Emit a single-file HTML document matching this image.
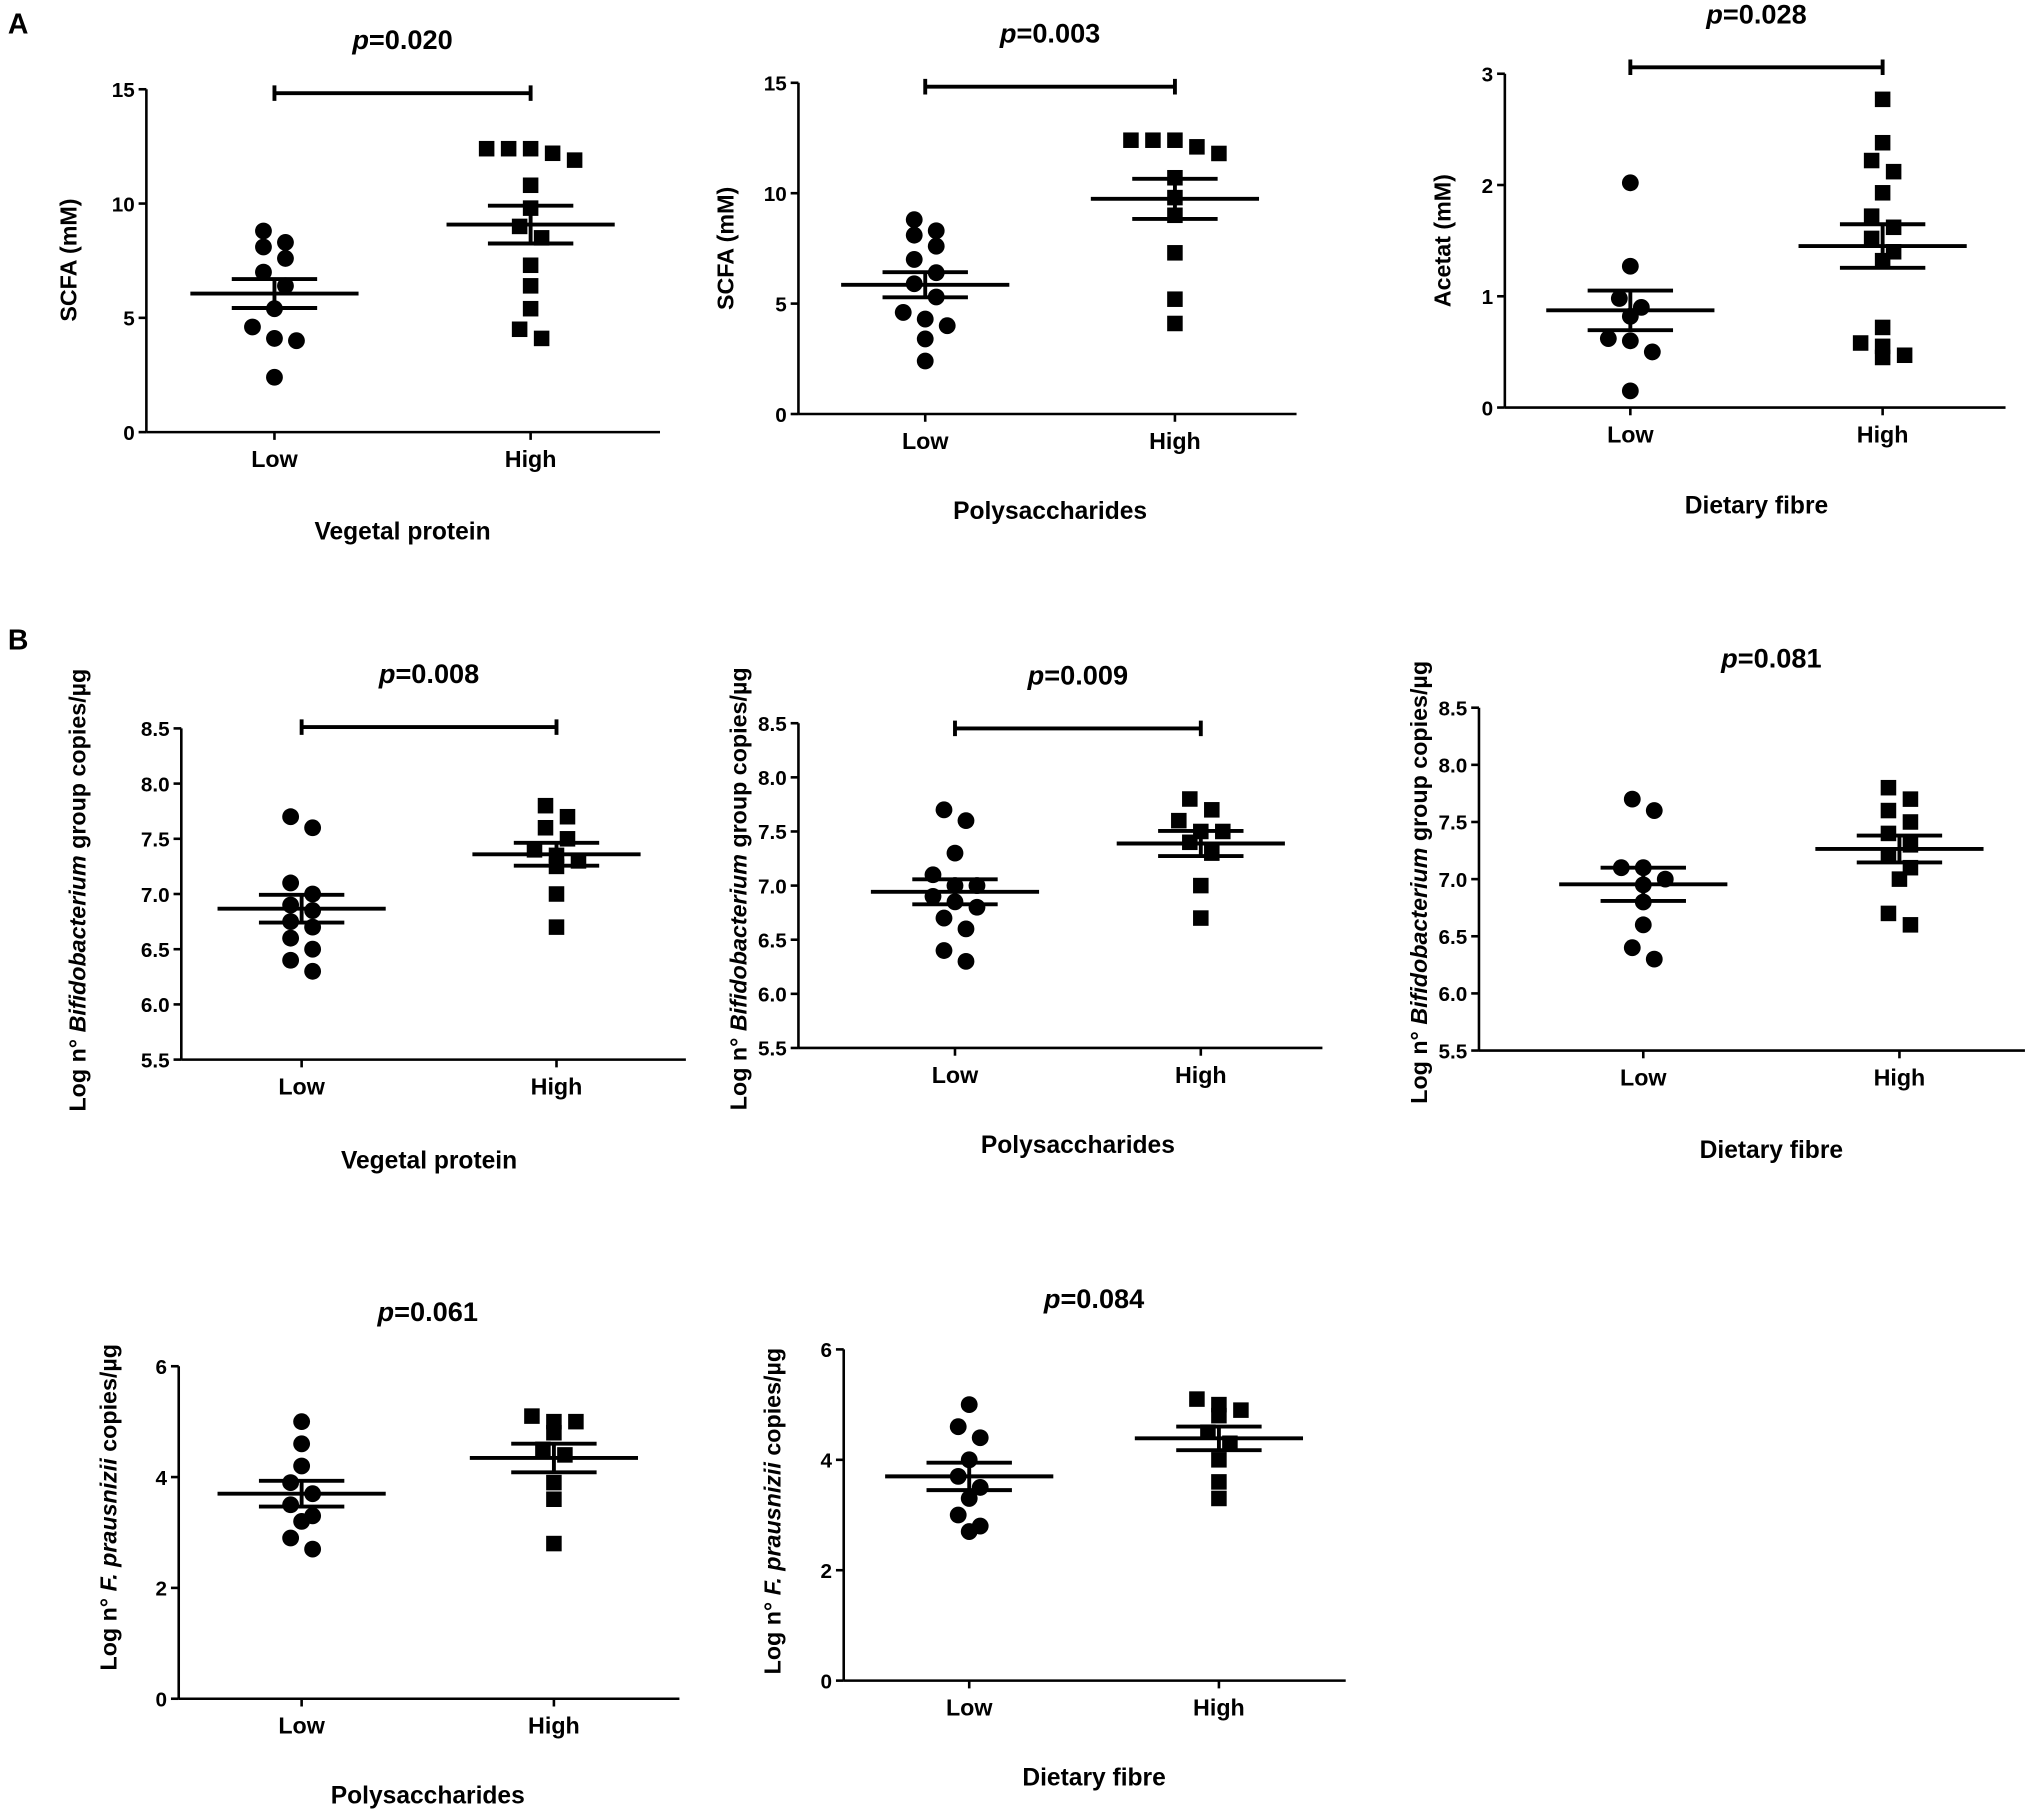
<!DOCTYPE html>
<html><head><meta charset="utf-8"><style>
html,body{margin:0;padding:0;background:#fff;}
svg{display:block;}
text{font-family:"Liberation Sans",Arial,sans-serif;font-weight:bold;fill:#000;}
</style></head><body>
<svg id="fig" width="2029" height="1810" viewBox="0 0 1568 1399" xmlns="http://www.w3.org/2000/svg">
<text x="6" y="26" font-size="22" font-weight="normal">A</text>
<text x="6" y="502" font-size="22" font-weight="normal">B</text>
</svg>
<script>
const categories = ["Low","High"];
const a1Low = [8.8,8.3,8.1,7.6,7.0,6.4,5.4,4.6,4.1,4.0,2.4];
const a1High = [12.4,12.4,12.4,12.2,11.9,10.8,9.8,9.0,8.5,7.3,6.4,5.4,4.5,4.1];
const a2Low = [8.8,8.3,8.1,7.6,7.0,6.4,5.9,5.3,4.6,4.3,4.0,3.4,2.4];
const a2High = [12.4,12.4,12.4,12.1,11.8,10.7,9.8,9.0,7.3,5.2,4.1];
const a3Low = [2.02,1.27,0.98,0.9,0.82,0.62,0.6,0.5,0.15];
const a3High = [2.77,2.38,2.22,2.12,1.93,1.72,1.62,1.52,1.4,1.32,0.72,0.58,0.55,0.47,0.45];
const b1Low = [7.7,7.6,7.1,7.0,6.9,6.85,6.75,6.7,6.6,6.5,6.4,6.3];
const b1High = [7.8,7.7,7.6,7.5,7.4,7.35,7.3,7.25,7.0,6.7];
const b2Low = [7.7,7.6,7.3,7.1,7.0,7.0,6.9,6.85,6.8,6.7,6.6,6.4,6.3];
const b2High = [7.8,7.7,7.6,7.5,7.5,7.4,7.3,7.0,6.7];
const b3Low = [7.7,7.6,7.1,7.1,7.0,6.95,6.8,6.6,6.4,6.3];
const b3High = [7.8,7.7,7.6,7.5,7.4,7.3,7.2,7.1,7.0,6.7,6.6];
const c1Low = [5.0,4.6,4.2,3.9,3.7,3.5,3.3,3.2,2.9,2.7];
const c1High = [5.1,5.0,5.0,4.8,4.5,4.4,3.9,3.6,2.8];
const c2Low = [5.0,4.6,4.4,4.0,3.7,3.5,3.3,3.0,2.8,2.7];
const c2High = [5.1,5.0,4.9,4.8,4.5,4.3,4.0,3.6,3.3];
const ticksA12 = [0,5,10,15];
const ticksA3 = [0,1,2,3];
const ticksB = ["5.5","6.0","6.5","7.0","7.5","8.0","8.5"];
const ticksC = [0,2,4,6];
const pValues = ["0.020","0.003","0.028","0.008","0.009","0.081","0.061","0.084"];

const NS="http://www.w3.org/2000/svg";
const svg=document.getElementById('fig');
function el(tag,attrs,parent){const e=document.createElementNS(NS,tag);for(const k in attrs)e.setAttribute(k,attrs[k]);(parent||svg).appendChild(e);return e;}

function panel(cfg){
  const g=el('g',{});
  
  
  const ymin=cfg.ticks[0]*1, ymax=cfg.ticks[cfg.ticks.length-1]*1;
  const ys=v=>cfg.y0+(v-ymin)/(ymax-ymin)*(cfg.y1-cfg.y0);
  const xs=[cfg.xl,cfg.xh];
  // axes
  const ya=el('line',{x1:cfg.ax,y1:cfg.y0,x2:cfg.ax,y2:cfg.y1,stroke:'#000','stroke-width':2},g);
  
  const xa=el('line',{x1:cfg.ax,y1:cfg.y0,x2:cfg.xend,y2:cfg.y0,stroke:'#000','stroke-width':2},g);
  
  cfg.ticks.forEach(t=>{
    const y=ys(t*1);
    el('line',{x1:cfg.ax-6,y1:y,x2:cfg.ax,y2:y,stroke:'#000','stroke-width':2},g);
    const tx=el('text',{x:cfg.ax-9,y:y+6,'font-size':16,'text-anchor':'end'},g);
    tx.textContent=t;
    
  });
  categories.forEach((c,i)=>{
    el('line',{x1:xs[i],y1:cfg.y0,x2:xs[i],y2:cfg.y0+6,stroke:'#000','stroke-width':2},g);
    const tx=el('text',{x:xs[i],y:cfg.y0+27,'font-size':18,'text-anchor':'middle'},g);
    tx.textContent=c;
    
  });
  const xt=el('text',{x:(cfg.xl+cfg.xh)/2,y:cfg.y0+cfg.xtOff,'font-size':19,'text-anchor':'middle'},g);
  xt.textContent=cfg.xtitle;
  
  const yt=el('text',{x:0,y:0,'font-size':18,'text-anchor':'middle',transform:`translate(${cfg.ytx},${cfg.yty}) rotate(-90)`},g);
  yt.innerHTML=cfg.ytitle;
  
  // p value
  const pt=el('text',{x:(cfg.xl+cfg.xh)/2,y:cfg.py,'font-size':21,'text-anchor':'middle'},g);
  pt.innerHTML='<tspan font-style="italic">p</tspan>='+cfg.p;
  
  if(cfg.bracket){
    const by=cfg.py+34;
    const b=el('path',{d:`M${cfg.xl},${by-6}V${by+6}M${cfg.xl},${by}H${cfg.xh}M${cfg.xh},${by-6}V${by+6}`,stroke:'#000','stroke-width':3,fill:'none'},g);
    
  }
  [cfg.low,cfg.high].forEach((data,gi)=>{
    const cx=xs[gi];
    const sorted=data.slice().sort((a,b)=>b-a);
    const clusters=[];
    sorted.forEach(v=>{
      const y=ys(v);
      const last=clusters[clusters.length-1];
      if(last&&Math.abs(last.y0-y)<11)last.items.push(y);else clusters.push({y0:y,items:[y]});
    });
    clusters.forEach(cl=>{
      const n=cl.items.length;
      cl.items.forEach((y,i)=>{
        const x=cx+(i-(n-1)/2)*17;
        let m;
        if(gi===0){m=el('circle',{cx:x,cy:y,r:6.5,fill:'#000'},g);}
        else{m=el('rect',{x:x-6,y:y-6,width:12,height:12,fill:'#000'},g);}
        
      });
    });
    const n=data.length, mean=data.reduce((a,b)=>a+b,0)/n;
    const sd=Math.sqrt(data.reduce((a,b)=>a+(b-mean)**2,0)/(n-1)), sem=sd/Math.sqrt(n);
    const ml=el('line',{x1:cx-65,y1:ys(mean),x2:cx+65,y2:ys(mean),stroke:'#000','stroke-width':3},g);
    
    const eb=el('path',{d:`M${cx},${ys(mean+sem)}V${ys(mean-sem)}M${cx-33},${ys(mean+sem)}H${cx+33}M${cx-33},${ys(mean-sem)}H${cx+33}`,stroke:'#000','stroke-width':3,fill:'none'},g);
    
  });
}
const bif='Log n° <tspan font-style="italic">Bifidobacterium</tspan>   group copies/µg';
const fp='Log n° <tspan font-style="italic">F. prausnizii</tspan> copies/µg';
panel({name:'chart-a1',ax:113,y0:334,y1:69,xl:212,xh:410,xend:510,ticks:ticksA12,low:a1Low,high:a1High,p:pValues[0],py:38,bracket:true,xtitle:'Vegetal protein',xtOff:83,ytitle:'SCFA (mM)',ytx:59,yty:201});
panel({name:'chart-a2',ax:617,y0:320,y1:64,xl:715,xh:908,xend:1002,ticks:ticksA12,low:a2Low,high:a2High,p:pValues[1],py:33,bracket:true,xtitle:'Polysaccharides',xtOff:81,ytitle:'SCFA (mM)',ytx:567,yty:192});
panel({name:'chart-a3',ax:1163,y0:315,y1:57,xl:1260,xh:1455,xend:1550,ticks:ticksA3,low:a3Low,high:a3High,p:pValues[2],py:18,bracket:true,xtitle:'Dietary fibre',xtOff:82,ytitle:'Acetat (mM)',ytx:1121,yty:186});
panel({name:'chart-b1',ax:140,y0:819,y1:563,xl:233,xh:430,xend:530,ticks:ticksB,low:b1Low,high:b1High,p:pValues[3],py:528,bracket:true,xtitle:'Vegetal protein',xtOff:84,ytitle:bif,ytx:66,yty:688});
panel({name:'chart-b2',ax:617,y0:810,y1:559,xl:738,xh:928,xend:1022,ticks:ticksB,low:b2Low,high:b2High,p:pValues[4],py:529,bracket:true,xtitle:'Polysaccharides',xtOff:81,ytitle:bif,ytx:577,yty:687});
panel({name:'chart-b3',ax:1143,y0:812,y1:547,xl:1270,xh:1468,xend:1565,ticks:ticksB,low:b3Low,high:b3High,p:pValues[5],py:516,bracket:false,xtitle:'Dietary fibre',xtOff:83,ytitle:bif,ytx:1103,yty:682});
panel({name:'chart-c1',ax:138,y0:1313,y1:1056,xl:233,xh:428,xend:525,ticks:ticksC,low:c1Low,high:c1High,p:pValues[6],py:1021,bracket:false,xtitle:'Polysaccharides',xtOff:81,ytitle:fp,ytx:90,yty:1165});
panel({name:'chart-c2',ax:652,y0:1299,y1:1043,xl:749,xh:942,xend:1040,ticks:ticksC,low:c2Low,high:c2High,p:pValues[7],py:1011,bracket:false,xtitle:'Dietary fibre',xtOff:81,ytitle:fp,ytx:603,yty:1168});
</script>
</body></html>
